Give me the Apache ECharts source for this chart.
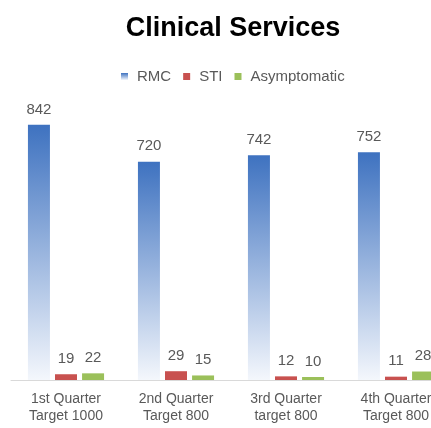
<!DOCTYPE html>
<html><head><meta charset="utf-8">
<script src="https://cdn.jsdelivr.net/npm/echarts@6/dist/echarts.min.js"></script>
<style>html,body{margin:0;padding:0;background:#fff;overflow:hidden;width:431px;height:428px}#c{width:460px;height:428px}</style>
</head><body><div id="c"></div>
<script>
var categories = ["1st Quarter\nTarget 1000", "2nd Quarter\nTarget 800", "3rd Quarter\ntarget 800", "4th Quarter\nTarget 800"];
var rmc = [842, 720, 742, 752];
var sti = [19, 29, 12, 11];
var asym = [22, 15, 10, 28];

var chart = echarts.init(document.getElementById('c'));
var font = 'Liberation Sans, Arial, sans-serif';
function grad(top, bottom) {
  return new echarts.graphic.LinearGradient(0, 0, 0, 1, [{offset: 0, color: top}, {offset: 1, color: bottom}]);
}
var lbl = {show: true, position: 'top', distance: 8, color: '#595959', fontSize: 15, fontFamily: font};
chart.setOption({
  animation: false,
  title: {text: 'Clinical Services', left: 228, top: 10, textAlign: 'center',
    textStyle: {fontSize: 27, fontWeight: 'bold', color: '#000', fontFamily: font}},
  legend: {top: 64, left: 116, itemWidth: 7, itemHeight: 7, itemGap: 12,
    textStyle: {color: '#595959', fontSize: 15, fontFamily: font, padding: [0, 0, 0, 4]},
    data: [{name: 'RMC', icon: 'rect'}, {name: 'STI', icon: 'rect'}, {name: 'Asymptomatic', icon: 'rect'}]},
  grid: {left: 11, right: 9, top: 77, bottom: 48},
  xAxis: {type: 'category', data: categories,
    axisLine: {lineStyle: {color: '#d9d9d9'}}, axisTick: {show: false},
    axisLabel: {color: '#595959', fontSize: 14, fontFamily: font, lineHeight: 17, margin: 11}},
  yAxis: {type: 'value', min: 0, max: 1000, show: false, splitLine: {show: false}},
  series: [
    {name: 'RMC', type: 'bar', data: rmc, barWidth: 22, barGap: '23%', barCategoryGap: '31%',
      itemStyle: {color: grad('#3e72c0', '#f4f7fc')}, label: lbl},
    {name: 'STI', type: 'bar', data: sti, barWidth: 22,
      itemStyle: {color: '#c8514f'}, label: lbl},
    {name: 'Asymptomatic', type: 'bar', data: asym, barWidth: 22,
      itemStyle: {color: '#9bc05a'}, label: lbl}
  ]
});
</script></body></html>
